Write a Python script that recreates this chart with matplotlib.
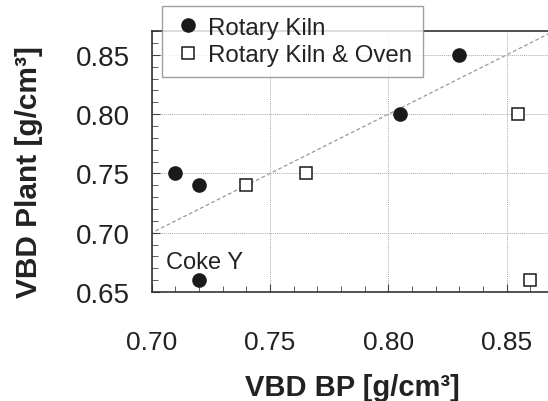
import matplotlib
matplotlib.use("Agg")
import matplotlib.pyplot as plt
from matplotlib.ticker import MultipleLocator

plt.rcParams['font.family'] = ['Liberation Sans', 'DejaVu Sans']

kiln_x = [0.710, 0.720, 0.720, 0.805, 0.830]
kiln_y = [0.750, 0.740, 0.660, 0.800, 0.850]
oven_x = [0.740, 0.765, 0.855, 0.860]
oven_y = [0.740, 0.750, 0.800, 0.660]
diag = [0.60, 0.95]
xticks = [0.70, 0.75, 0.80, 0.85]
yticks = [0.65, 0.70, 0.75, 0.80, 0.85]

fig = plt.figure(figsize=(5.48, 4.02), dpi=100)
ax = fig.add_axes([0.277, 0.271, 0.723, 0.649])

ax.plot(diag, diag, ls=(0, (3, 2)), color='#999999', lw=0.9, zorder=1)
ax.plot(kiln_x, kiln_y, 'o', ms=9.5, color='#1a1a1a', ls='none', label='Rotary Kiln', zorder=3)
ax.plot(oven_x, oven_y, 's', ms=9, mfc='white', mec='#1a1a1a', mew=1.1, ls='none',
        label='Rotary Kiln & Oven', zorder=3)

ax.text(0.7058, 0.6755, 'Coke Y', fontsize=17, color='#222222', va='center', ha='left')

ax.set_xlim(0.70, 0.8675)
ax.set_ylim(0.65, 0.87)
ax.set_xticks(xticks)
ax.set_xticklabels([f'{v:.2f}' for v in xticks])
ax.set_yticks(yticks)
ax.set_yticklabels([f'{v:.2f}' for v in yticks])
ax.xaxis.set_minor_locator(MultipleLocator(0.01))
ax.yaxis.set_minor_locator(MultipleLocator(0.01))
ax.tick_params(which='both', direction='in', color='#444444', labelcolor='#222222')
ax.tick_params(axis='x', labelsize=19)
ax.tick_params(axis='y', labelsize=20)
ax.tick_params(which='major', length=6)
ax.tick_params(which='minor', length=4)
ax.tick_params(axis='x', which='major', pad=27)
ax.tick_params(axis='y', which='major', pad=16)
ax.grid(True, which='major', ls=(0, (1, 1)), color='#aaaaaa', lw=0.7)

for s in ['left', 'bottom', 'top']:
    ax.spines[s].set_color('#333333')
    ax.spines[s].set_linewidth(1.2)
ax.spines['right'].set_visible(False)

ax.set_xlabel('VBD BP [g/cm³]', fontsize=21, fontweight='bold', color='#222222')
ax.set_ylabel('VBD Plant [g/cm³]', fontsize=21.5, fontweight='bold', color='#222222')
ax.xaxis.set_label_coords(0.505, -0.31)
ax.yaxis.set_label_coords(-0.275, 0.462)

leg = ax.legend(loc='upper left', bbox_to_anchor=(0.296, 0.983), bbox_transform=fig.transFigure,
                fontsize=17.3, frameon=True, fancybox=False, edgecolor='#888888',
                handletextpad=0.2, handlelength=1.25, borderpad=0.45, labelspacing=0.22,
                borderaxespad=0, markerscale=1.0)
leg.get_frame().set_linewidth(1.0)
leg.set_zorder(5)
for t in leg.get_texts():
    t.set_color('#222222')

fig.savefig('out.png', dpi=100)
